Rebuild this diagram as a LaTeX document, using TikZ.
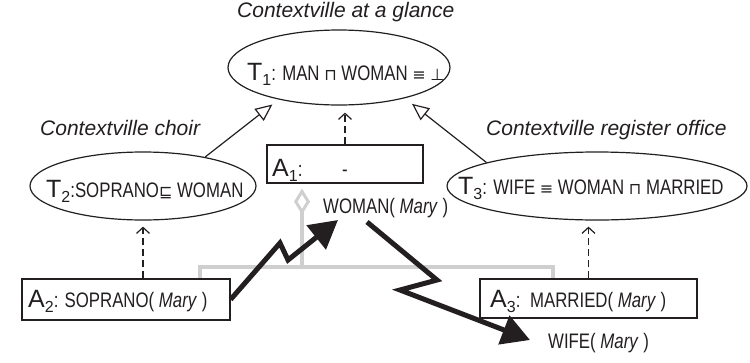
\documentclass[tikz,border=0pt]{standalone}
\usepackage{fontspec}
\setmainfont{Liberation Sans}
\newfontfamily\narrowfont[FakeStretch=0.8]{Liberation Sans}
\newfontfamily\symbolfont{DejaVu Sans}
\usepackage{tikz}
\usetikzlibrary{arrows.meta,positioning,shapes.geometric}
\definecolor{ink}{HTML}{231F20}
\definecolor{linkgray}{HTML}{CFCFCF}
\newcommand{\ctxname}[2]{{\normalfont\fontsize{25}{25}\selectfont #1}\raisebox{-5pt}{\normalfont\fontsize{16}{16}\selectfont #2}}
\newcommand{\dlsym}[1]{{\symbolfont\fontsize{16}{16}\selectfont #1}}

\begin{document}
\begin{tikzpicture}[x=1pt,y=-1pt,every node/.style={inner sep=0pt,text=ink},thy/.style={draw=ink,line width=1.2pt,ellipse,inner sep=0pt},abox/.style={draw=ink,line width=1.2pt,rectangle,inner sep=0pt},ctx/.style={font=\fontsize{21}{24}\selectfont\itshape,anchor=base west},fact/.style={font=\narrowfont\fontsize{21}{24}\selectfont,anchor=base west},inh/.style={draw=ink,line width=1.2pt,-{Triangle[open,length=17pt,width=15pt]}},dep/.style={draw=ink,line width=1.2pt,dash pattern=on 7pt off 4pt,-{Straight Barb[length=6pt,width=13pt]}},agg/.style={draw=linkgray,line width=4pt},bolt/.style={draw=ink,line width=5pt,-{Triangle[length=28pt,width=30pt]}}]
\useasboundingbox (0,0) rectangle (750,362);
% theories
\node[ctx] (glance) at (237,17) {Contextville at a glance};
\node[thy,minimum width=222pt,minimum height=75pt] (t1) at (339,67.5) {};
\node[fact] (t1txt) at (247,80) {\ctxname{T}{1}: MAN \dlsym{⊓} WOMAN \dlsym{≡} \dlsym{⊥}};
\node[ctx] (choir) at (40,135) {Contextville choir};
\node[thy,minimum width=226pt,minimum height=68pt] (t2) at (143,186) {};
\node[fact] (t2txt) at (46,197) {\ctxname{T}{2}:SOPRANO\dlsym{⊑} WOMAN};
\node[ctx] (office) at (486,135) {Contextville register office};
\node[thy,minimum width=300pt,minimum height=68pt] (t3) at (597,186) {};
\node[fact] (t3txt) at (458,194) {\ctxname{T}{3}: WIFE \dlsym{≡} WOMAN \dlsym{⊓} MARRIED};
% aboxes
\node[abox,minimum width=156pt,minimum height=38pt] (a1) at (345,164) {};
\node[fact] (a1txt) at (272,176) {\ctxname{A}{1}:};
\node[fact,anchor=base] (a1val) at (345,176) {-};
\node[abox,minimum width=208pt,minimum height=41pt] (a2) at (126,299.5) {};
\node[fact] (a2txt) at (28,307) {\ctxname{A}{2}: SOPRANO( \textit{Mary} )};
\node[abox,minimum width=217pt,minimum height=39pt] (a3) at (588.5,298.5) {};
\node[fact] (a3txt) at (490,307) {\ctxname{A}{3}:\, MARRIED( \textit{Mary} )};
\node[fact] (woman) at (323,213) {WOMAN( \textit{Mary} )};
\node[fact] (wife) at (548,348) {WIFE( \textit{Mary} )};
% links
\draw[inh,shorten >=8pt] (t2.25) -- (t1.208);
\draw[inh,shorten >=9pt] (t3.168) -- (t1.335);
\draw[dep,shorten >=7pt] (a1) -- (a1 |- t1.south);
\draw[dep,shorten >=6pt] (t2.south |- a2.north) -- (t2.south);
\draw[dep,shorten >=6pt] (a3) -- (a3 |- t3.south);
\coordinate (busl) at (200,267);
\coordinate (busm) at (302,267);
\coordinate (busr) at (553,267);
\draw[agg,{Diamond[open,length=26pt,width=16pt,line width=3pt]}-,shorten <=5pt] (busm |- a1.south) -- (busm);
\draw[agg] (busl |- a2.north) -- (busl) -- (busr) -- (busr |- a3.north);
% bolts
\coordinate (z1a) at (280,243);
\coordinate (z1b) at (288,260);
\coordinate (z1tip) at (338,220);
\draw[bolt] (a2.east) -- (z1a) -- (z1b) -- (z1tip);
\coordinate (z2s) at (367,222);
\coordinate (z2a) at (437,280);
\coordinate (z2b) at (400,290);
\coordinate (z2tip) at (530,340);
\draw[bolt] (z2s) -- (z2a) -- (z2b) -- (z2tip);
\end{tikzpicture}
\end{document}
